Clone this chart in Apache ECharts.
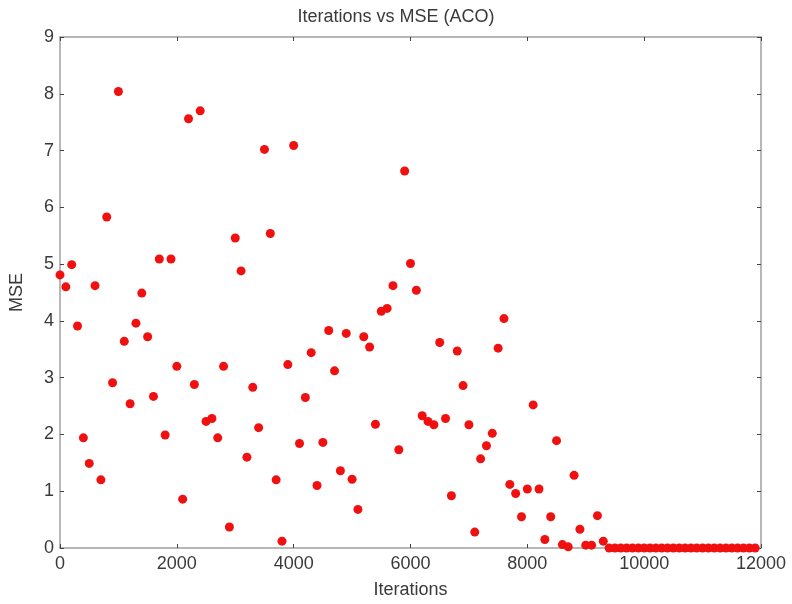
<!DOCTYPE html>
<html>
<head>
<meta charset="utf-8">
<script src="https://cdn.jsdelivr.net/npm/echarts@6/dist/echarts.min.js"></script>
<style>
html,body{margin:0;padding:0;background:#fff;}
#chart{width:792px;height:604px;}
</style>
</head>
<body>
<div id="chart"></div>
<script>
const titleText = 'Iterations vs MSE (ACO)';
const xName = 'Iterations';
const yName = 'MSE';
const iterations = [
  0,100,200,300,400,500,600,700,800,900,
  1000,1100,1200,1300,1400,1500,1600,1700,1800,1900,
  2000,2100,2200,2300,2400,2500,2600,2700,2800,2900,
  3000,3100,3200,3300,3400,3500,3600,3700,3800,3900,
  4000,4100,4200,4300,4400,4500,4600,4700,4800,4900,
  5000,5100,5200,5300,5400,5500,5600,5700,5800,5900,
  6000,6100,6200,6300,6400,6500,6600,6700,6800,6900,
  7000,7100,7200,7300,7400,7500,7600,7700,7800,7900,
  8000,8100,8200,8300,8400,8500,8600,8700,8800,8900,
  9000,9100,9200,9300,9400,9500,9600,9700,9800,9900,
  10000,10100,10200,10300,10400,10500,10600,10700,10800,10900,
  11000,11100,11200,11300,11400,11500,11600,11700,11800,11900
];
const mse = [
  4.81,4.60,4.99,3.91,1.94,1.49,4.62,1.20,5.83,2.91,
  8.04,3.64,2.54,3.96,4.49,3.72,2.67,5.09,1.99,5.09,
  3.20,0.86,7.56,2.88,7.70,2.23,2.28,1.94,3.20,0.37,
  5.46,4.88,1.60,2.83,2.12,7.02,5.54,1.20,0.12,3.23,
  7.09,1.84,2.65,3.44,1.10,1.86,3.83,3.12,1.36,3.78,
  1.21,0.68,3.72,3.54,2.18,4.17,4.22,4.62,1.73,6.64,
  5.01,4.54,2.33,2.23,2.17,3.62,2.28,0.92,3.47,2.86,
  2.17,0.28,1.57,1.80,2.02,3.52,4.04,1.12,0.96,0.55,
  1.04,2.52,1.04,0.15,0.55,1.89,0.06,0.02,1.28,0.33,
  0.05,0.05,0.57,0.12,0,0,0,0,0,0,
  0,0,0,0,0,0,0,0,0,0,
  0,0,0,0,0,0,0,0,0,0
];
const xTicks = [0,2000,4000,6000,8000,10000,12000];
const yTicks = [0,1,2,3,4,5,6,7,8,9];

const font = '"Liberation Sans", Arial, sans-serif';
const axisLineColor = '#a0a0a0';
const tickColor = '#444';
const textColor = '#3a3a3a';

const chart = echarts.init(document.getElementById('chart'), null, {renderer:'canvas'});
const frameAxis = (pos, isX, showLabel) => ({
  type: 'value',
  position: pos,
  min: isX ? xTicks[0] : yTicks[0],
  max: isX ? xTicks[xTicks.length-1] : yTicks[yTicks.length-1],
  interval: isX ? 2000 : 1,
  splitLine: {show:false},
  axisLine: {show:true, onZero:false, lineStyle:{color:axisLineColor, width:1.5}},
  axisTick: {show:true, inside:true, length:4, lineStyle:{color:tickColor, width:1}},
  axisLabel: {show:showLabel, color:textColor, fontSize:18, fontFamily:font,
    margin: isX ? 7 : 6, formatter: v => String(v)},
});
const xBottom = Object.assign(frameAxis('bottom', true, true), {
  name: xName, nameLocation:'middle', nameGap:33,
  nameTextStyle:{color:textColor, fontSize:18, fontFamily:font}
});
const yLeft = Object.assign(frameAxis('left', false, true), {
  name: yName, nameLocation:'middle', nameGap:34,
  nameTextStyle:{color:textColor, fontSize:18, fontFamily:font}
});
chart.setOption({
  animation:false,
  backgroundColor:'#fff',
  title:{text:titleText, left:'center', top:3,
    textStyle:{color:textColor, fontSize:18, fontWeight:'normal', fontFamily:font}},
  grid:{left:59, right:31, top:37, bottom:52, containLabel:false},
  xAxis:[xBottom, frameAxis('top', true, false)],
  yAxis:[yLeft, frameAxis('right', false, false)],
  series:[{
    type:'scatter',
    xAxisIndex:0, yAxisIndex:0,
    symbol:'circle', symbolSize:9,
    itemStyle:{color:'#f01010', opacity:1},
    data: iterations.map((x,i)=>[x, mse[i]])
  }]
});
</script>
</body>
</html>
